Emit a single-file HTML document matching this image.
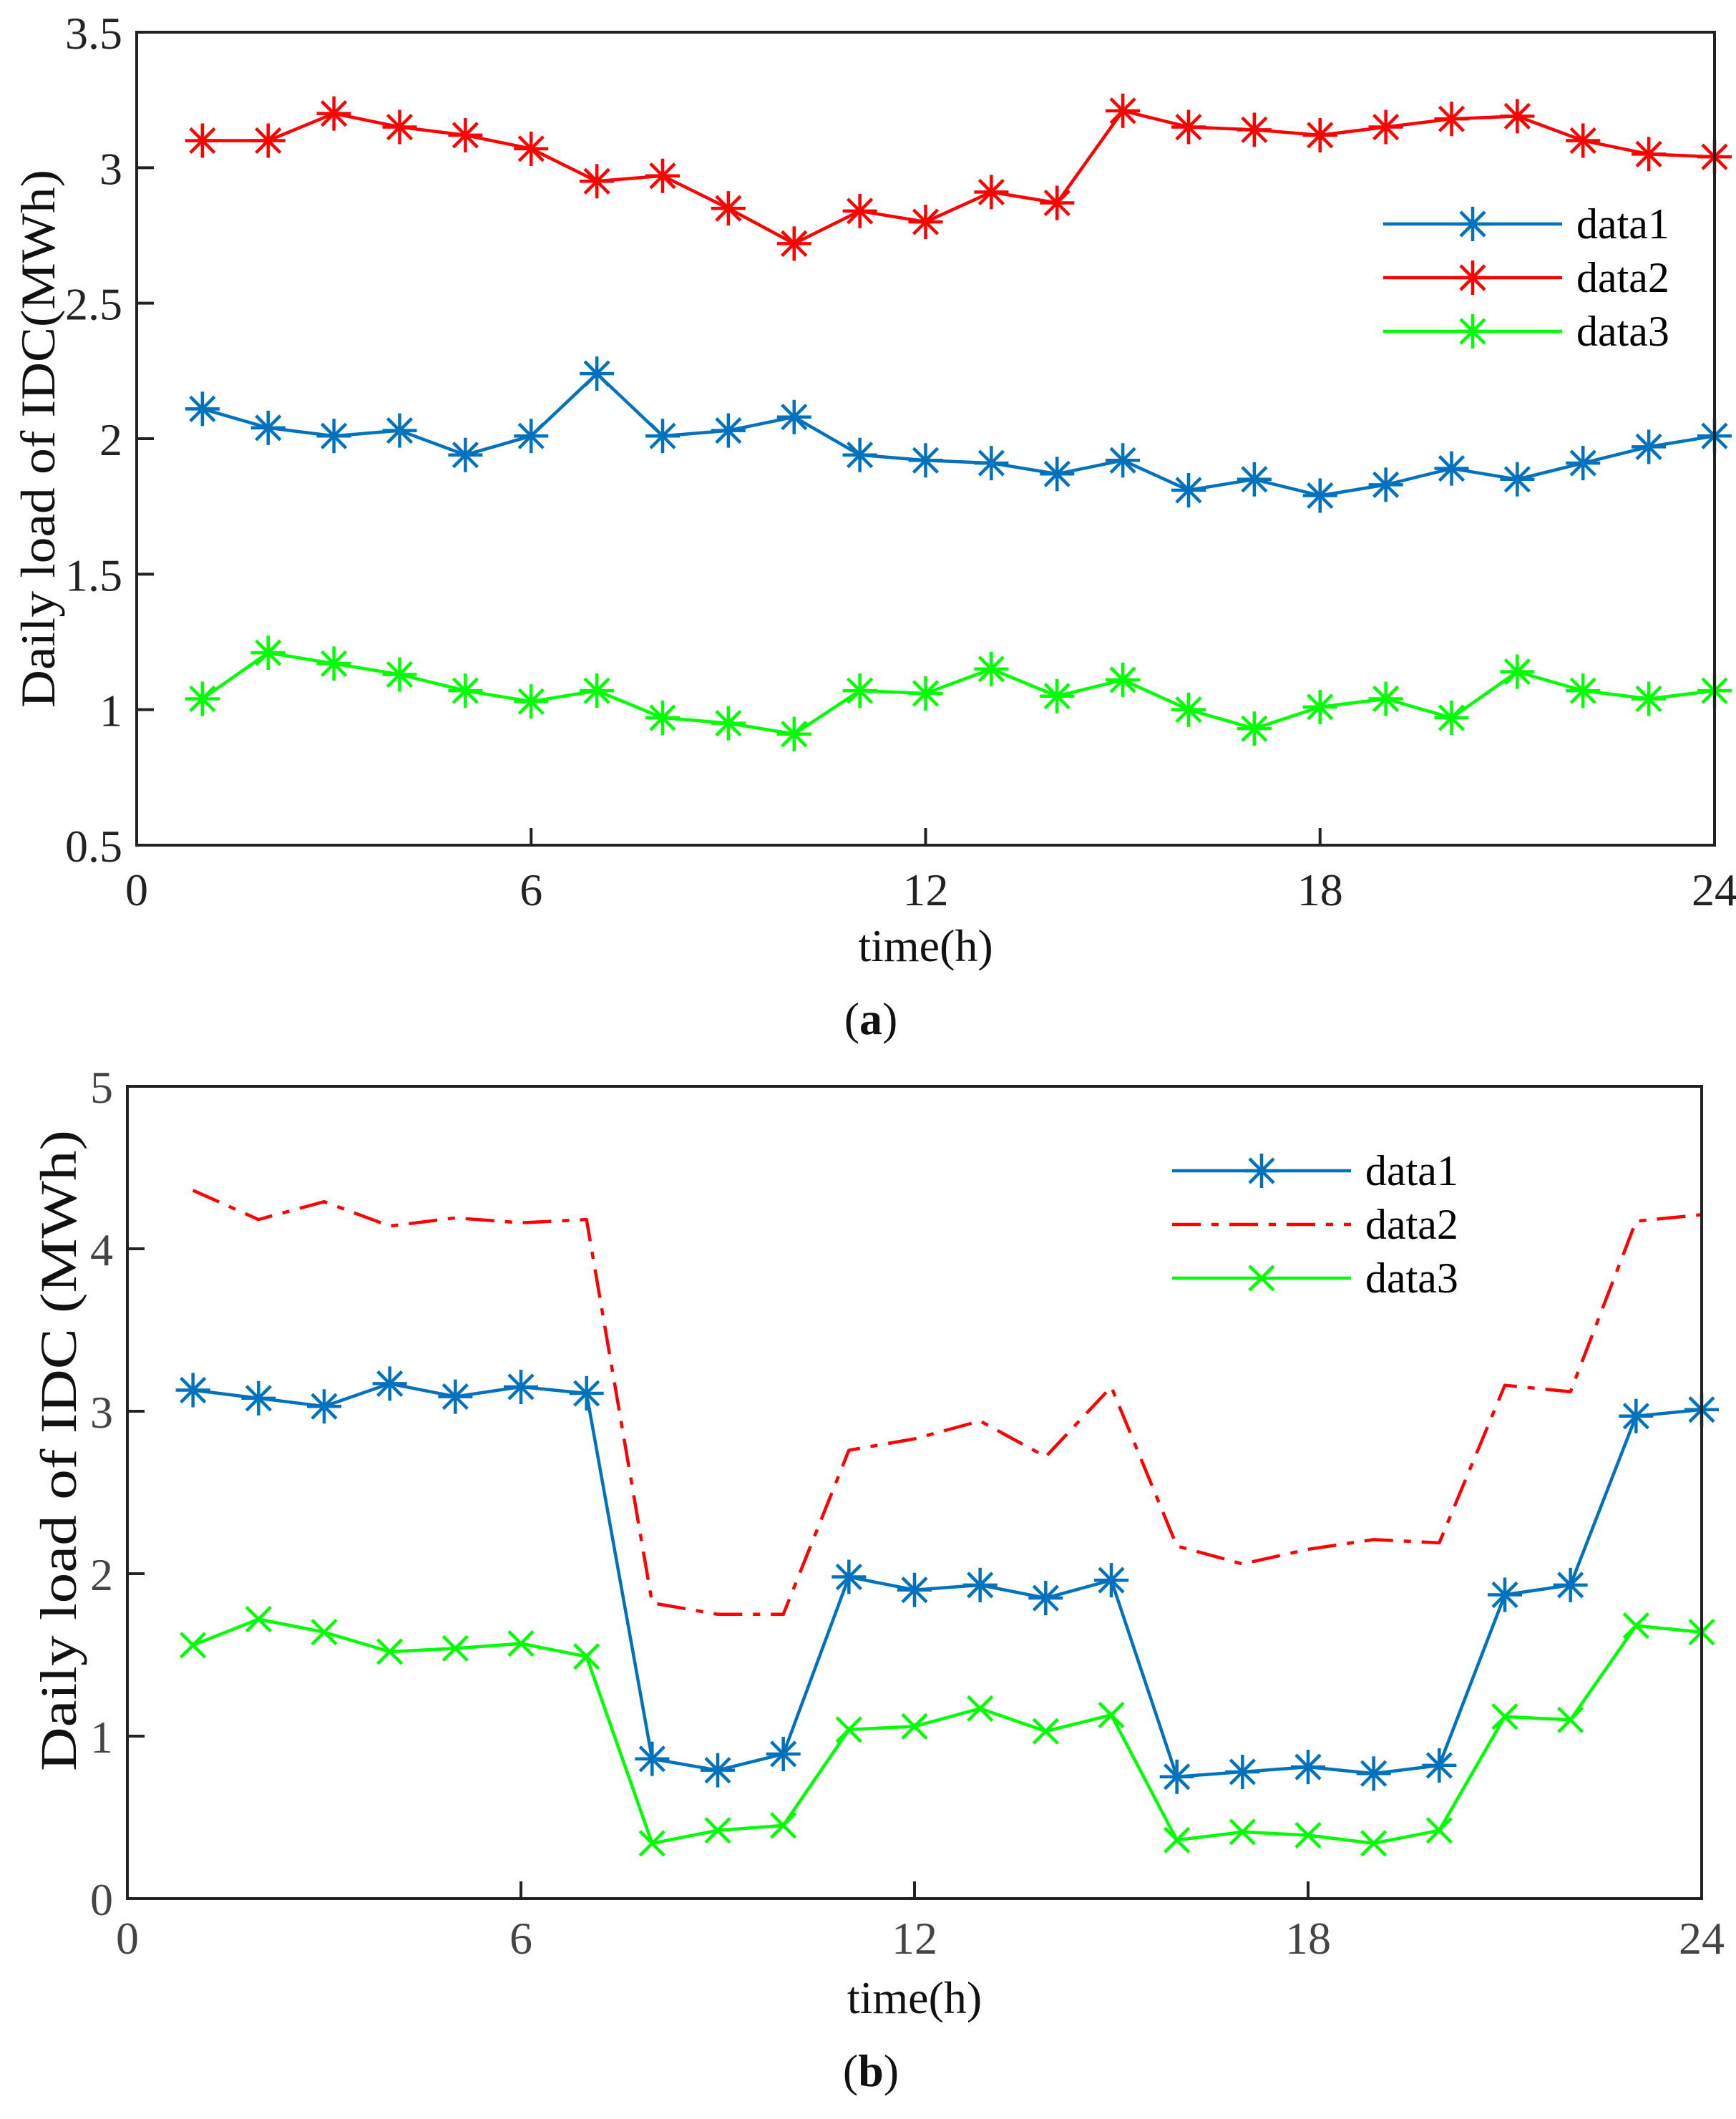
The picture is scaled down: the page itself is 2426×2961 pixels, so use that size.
<!DOCTYPE html>
<html><head><meta charset="utf-8"><style>
html,body{margin:0;padding:0;background:#fff;}
svg{display:block;font-family:"Liberation Serif",serif;}
text{font-family:"Liberation Serif",serif;}
</style></head><body>
<svg id="fig" width="2426" height="2961" viewBox="0 0 2426 2961"></svg>
<script>
const hours = [1,2,3,4,5,6,7,8,9,10,11,12,13,14,15,16,17,18,19,20,21,22,23,24];
const xTicks = [0,6,12,18,24];
const aTicksY = [0.5,1,1.5,2,2.5,3,3.5];
const bTicksY = [0,1,2,3,4,5];
const aData1 = [2.11,2.04,2.01,2.03,1.94,2.01,2.24,2.01,2.03,2.08,1.94,1.92,1.91,1.87,1.92,1.81,1.85,1.79,1.83,1.89,1.85,1.91,1.97,2.01];
const aData2 = [3.10,3.10,3.20,3.15,3.12,3.07,2.95,2.97,2.85,2.72,2.84,2.80,2.91,2.87,3.21,3.15,3.14,3.12,3.15,3.18,3.19,3.10,3.05,3.04];
const aData3 = [1.04,1.21,1.17,1.13,1.07,1.03,1.07,0.97,0.95,0.91,1.07,1.06,1.15,1.05,1.11,1.00,0.93,1.01,1.04,0.97,1.14,1.07,1.04,1.07];
const bData1 = [3.13,3.08,3.03,3.17,3.09,3.15,3.11,0.86,0.79,0.89,1.98,1.90,1.93,1.85,1.96,0.75,0.78,0.81,0.77,0.82,1.87,1.93,2.97,3.01];
const bData2 = [4.36,4.18,4.29,4.14,4.19,4.16,4.18,1.82,1.75,1.75,2.76,2.83,2.94,2.72,3.15,2.17,2.06,2.15,2.21,2.19,3.16,3.12,4.17,4.21];
const bData3 = [1.56,1.72,1.64,1.52,1.54,1.57,1.49,0.34,0.42,0.45,1.04,1.06,1.17,1.03,1.13,0.36,0.41,0.39,0.34,0.42,1.12,1.10,1.68,1.64];

const NS='http://www.w3.org/2000/svg';
const svg=document.getElementById('fig');
const FONT='"Liberation Serif", serif';
function el(tag,attrs,parent){const e=document.createElementNS(NS,tag);for(const k in attrs)e.setAttribute(k,attrs[k]);(parent||svg).appendChild(e);return e;}
function txt(s,attrs,parent){attrs['font-family']=FONT;const t=el('text',attrs,parent);t.textContent=s;return t;}

function marker(g,kind,x,y,color){
  const r=24, d=17;
  let p='';
  if(kind==='star'){p=`M${x-r},${y}L${x+r},${y}M${x},${y-r}L${x},${y+r}M${x-d},${y-d}L${x+d},${y+d}M${x-d},${y+d}L${x+d},${y-d}`;}
  else {p=`M${x-d},${y-d}L${x+d},${y+d}M${x-d},${y+d}L${x+d},${y-d}`;}
  const m=el('path',{d:p,stroke:color,'stroke-width':4.5,fill:'none'},g);
  
  
}

function chart(cfg){
  const g=el('g',{});
  
  
  const X=v=>cfg.x0+(v-0)/(24-0)*(cfg.x1-cfg.x0);
  const Y=v=>cfg.y1-(v-cfg.ymin)/(cfg.ymax-cfg.ymin)*(cfg.y1-cfg.y0);
  cfg.series.forEach(s=>{
    const sg=el('g',{},g);
    
    
    const pts=hours.map((h,i)=>X(h)+','+Y(s.vals[i])).join(' ');
    const attrs={points:pts,fill:'none',stroke:s.color,'stroke-width':4.5,'stroke-linejoin':'round'};
    if(s.dash)attrs['stroke-dasharray']=s.dash;
    const pl=el('polyline',attrs,sg);
    
    
    if(s.marker)hours.forEach((h,i)=>marker(sg,s.marker,X(h),Y(s.vals[i]),s.color));
  });
  const box=el('rect',{x:cfg.x0,y:cfg.y0,width:cfg.x1-cfg.x0,height:cfg.y1-cfg.y0,fill:'none',stroke:'#222','stroke-width':4},g);
  
  
  xTicks.forEach(t=>{
    el('line',{x1:X(t),x2:X(t),y1:cfg.y1,y2:cfg.y1-24,stroke:'#222','stroke-width':4},g);
    const l=txt(String(t),{x:X(t),y:cfg.y1+cfg.xlabOff,'font-size':cfg.fs,'text-anchor':'middle',fill:cfg.tickColor},g);
    
    
  });
  cfg.yTicks.forEach(t=>{
    el('line',{x1:cfg.x0,x2:cfg.x0+24,y1:Y(t),y2:Y(t),stroke:'#222','stroke-width':4},g);
    const l=txt(String(t),{x:cfg.x0-20,y:Y(t)+23,'font-size':cfg.fs,'text-anchor':'end',fill:cfg.tickColor},g);
    
    
  });
  const xt=txt('time(h)',{x:(cfg.x0+cfg.x1)/2,y:cfg.y1+cfg.xtitleOff,'font-size':64,'text-anchor':'middle',fill:'#111'},g);
  
  
  const yt=txt(cfg.ytitle,{x:0,y:0,'font-size':cfg.ytfs,'text-anchor':'middle',fill:'#111',
    textLength:cfg.ytlen,lengthAdjust:'spacingAndGlyphs',
    transform:`translate(${cfg.ytx} ${cfg.yty}) rotate(-90)`},g);
  
  
  const lg=el('g',{},g);
  
  
  cfg.series.forEach((s,i)=>{
    const y=cfg.legY+i*cfg.legStep;
    const e=el('g',{},lg);
    
    
    const a={x1:cfg.legX,x2:cfg.legX+250,y1:y,y2:y,stroke:s.color,'stroke-width':4.5};
    if(s.dash)a['stroke-dasharray']=s.dash;
    el('line',a,e);
    if(s.marker)marker(e,s.marker,cfg.legX+125,y,s.color);
    txt(s.label,{x:cfg.legX+270,y:y+20,'font-size':60,fill:'#000'},e);
  });
  const cap=el('text',{x:cfg.capX,y:cfg.capY,'font-size':64,'text-anchor':'middle',fill:'#111','font-family':FONT},g);
  cap.innerHTML='(<tspan font-weight="bold">'+cfg.cap+'</tspan>)';
  
  
}

chart({name:'chart-a',x0:191,x1:2396,y0:45,y1:1181,ymin:0.5,ymax:3.5,yTicks:aTicksY,fs:64,tickColor:'#222',
  xlabOff:84,xtitleOff:162,ytitle:'Daily load of IDC(MWh)',ytx:76,yty:613,ytfs:68,ytlen:752,
  legX:1933,legY:313,legStep:75,capX:1217,capY:1445,cap:'a',
  series:[{name:'series-a-data1',label:'data1',vals:aData1,color:'#0072BD',marker:'star'},
          {name:'series-a-data2',label:'data2',vals:aData2,color:'#FF0000',marker:'star'},
          {name:'series-a-data3',label:'data3',vals:aData3,color:'#00FF00',marker:'star'}]});
chart({name:'chart-b',x0:178,x1:2378,y0:1518,y1:2653,ymin:0,ymax:5,yTicks:bTicksY,fs:64,tickColor:'#444',
  xlabOff:77,xtitleOff:160,ytitle:'Daily load of IDC (MWh)',ytx:106,yty:2027,ytfs:72,ytlen:896,
  legX:1638,legY:1636,legStep:75,capX:1217,capY:2915,cap:'b',
  series:[{name:'series-b-data1',label:'data1',vals:bData1,color:'#0072BD',marker:'star'},
          {name:'series-b-data2',label:'data2',vals:bData2,color:'#FF0000',dash:'40 15 10 15'},
          {name:'series-b-data3',label:'data3',vals:bData3,color:'#00FF00',marker:'x'}]});
</script>
</body></html>
